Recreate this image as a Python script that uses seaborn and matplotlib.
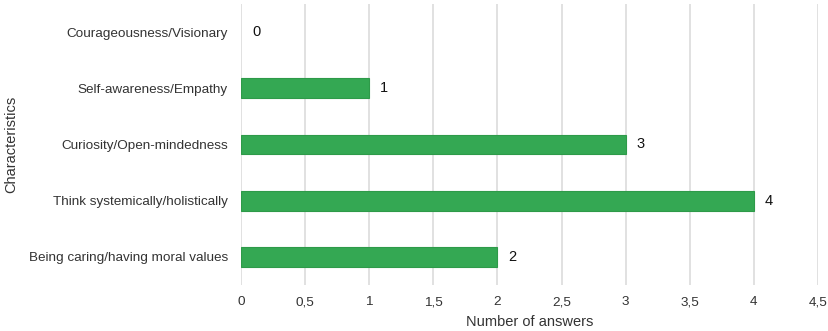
import matplotlib
matplotlib.use("Agg")
import matplotlib.pyplot as plt
import seaborn as sns
import pandas as pd
from matplotlib.ticker import FuncFormatter

categories = ["Courageousness/Visionary", "Self-awareness/Empathy", "Curiosity/Open-mindedness",
              "Think systemically/holistically", "Being caring/having moral values"]
values = [0, 1, 3, 4, 2]
x_ticks = [0, 0.5, 1, 1.5, 2, 2.5, 3, 3.5, 4, 4.5]

sns.set_theme(style="white")
plt.rcParams['font.family'] = ['Liberation Sans', 'DejaVu Sans']

df = pd.DataFrame({"cat": categories, "val": values})

fig = plt.figure(figsize=(8.29, 3.31), dpi=100)
ax = fig.add_axes([0.2907, 0.139, 0.6960, 0.849])

sns.barplot(data=df, y="cat", x="val", orient="h", color="#34a853", saturation=1,
            width=0.35, edgecolor="#2e9a49", linewidth=0.8, ax=ax, zorder=3)
for p in ax.patches:
    if p.get_width() == 0:
        p.set_linewidth(0)

ax.set_xlim(0, 4.5)
ax.set_ylim(4.5, -0.5)
ax.set_xticks(x_ticks)
ax.xaxis.set_major_formatter(FuncFormatter(lambda v, p: f"{v:g}".replace(".", ",")))
ax.grid(axis="x", color="#dcdcdc", linewidth=1.2, zorder=0)
ax.set_axisbelow(True)
for s in ax.spines.values():
    s.set_visible(False)
ax.tick_params(axis="both", length=0, labelsize=9.7, labelcolor="#333333")
ax.tick_params(axis="y", pad=9.5)
ax.tick_params(axis="x", pad=8)

for i, v in enumerate(values):
    ax.annotate(str(v), xy=(v, i), xytext=(8, 0), textcoords="offset points",
                va="center", ha="left", fontsize=10.5, color="#111111")

ax.set_xlabel("Number of answers", fontsize=10.5, color="#333333", labelpad=5)
ax.set_ylabel("")
fig.text(11 / 829, 1 - 144.5 / 331, "Characteristics", rotation=90, fontsize=10.5,
         color="#333333", ha="center", va="center")

fig.savefig("out.png", dpi=100)
